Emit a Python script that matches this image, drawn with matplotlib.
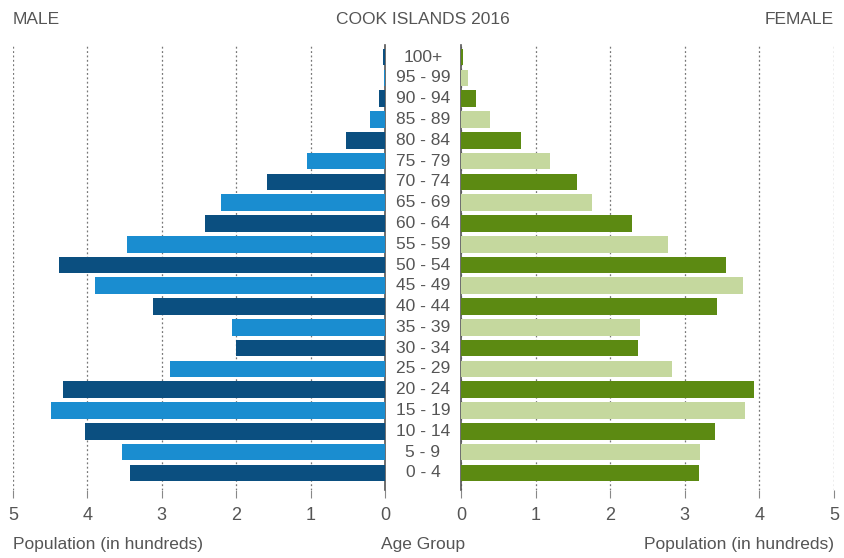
import numpy as np
import matplotlib
matplotlib.use('Agg')
import matplotlib.pyplot as plt
from matplotlib.transforms import blended_transform_factory

ages = ['0 - 4', '5 - 9', '10 - 14', '15 - 19', '20 - 24', '25 - 29', '30 - 34',
        '35 - 39', '40 - 44', '45 - 49', '50 - 54', '55 - 59', '60 - 64', '65 - 69',
        '70 - 74', '75 - 79', '80 - 84', '85 - 89', '90 - 94', '95 - 99', '100+']
male = [3.43, 3.53, 4.03, 4.49, 4.33, 2.89, 2.00, 2.06, 3.12, 3.90, 4.38,
        3.47, 2.42, 2.20, 1.59, 1.05, 0.52, 0.20, 0.08, 0.01, 0.03]
female = [3.19, 3.20, 3.41, 3.81, 3.93, 2.83, 2.37, 2.40, 3.43, 3.78, 3.55,
          2.78, 2.29, 1.75, 1.55, 1.19, 0.80, 0.39, 0.20, 0.09, 0.03]
ticks = [0, 1, 2, 3, 4, 5]

font = ['Liberation Sans', 'DejaVu Sans']
txt = '#555555'

fig = plt.figure(figsize=(8.45, 5.58), dpi=100)
axl = fig.add_axes([13 / 845, 1 - 490 / 558, 372 / 845, 445 / 558])
axr = fig.add_axes([461 / 845, 1 - 490 / 558, 373 / 845, 445 / 558])

y = np.arange(len(ages))
male_cols = ['#0b4f80' if i % 2 == 0 else '#1a8dd0' for i in y]
female_cols = ['#5c8a12' if i % 2 == 0 else '#c5d89e' for i in y]

axl.barh(y, male, height=0.8, color=male_cols, zorder=3)
axr.barh(y, female, height=0.8, color=female_cols, zorder=3)

axl.set_xlim(5, 0)
axr.set_xlim(0, 5)

for ax, side in [(axl, 'right'), (axr, 'left')]:
    ax.set_ylim(-0.82, 20.58)
    ax.set_yticks([])
    ax.set_xticks(ticks)
    ax.set_xticklabels([str(t) for t in ticks], family=font, fontsize=13, color=txt)
    ax.tick_params(axis='x', length=6, color='#888888', pad=6)
    for s in ['top', 'bottom', 'left', 'right']:
        ax.spines[s].set_visible(s == side)
    ax.spines[side].set_color('#555555')
    ax.spines[side].set_linewidth(1.2)
    ax.grid(axis='x', linestyle=(0, (1.5, 2)), color='#777777', linewidth=0.9, zorder=0)
    ax.set_facecolor('none')

# age group labels in the gap between the two halves
tr = blended_transform_factory(fig.transFigure, axl.transData)
for i, a in enumerate(ages):
    fig.text(423 / 845, i, a, transform=tr, ha='center', va='center',
             fontsize=12.5, color=txt, family=font)

fig.text(13 / 845, 1 - 20 / 558, 'MALE', ha='left', va='center', fontsize=12.5, color=txt, family=font)
fig.text(423 / 845, 1 - 20 / 558, 'COOK ISLANDS 2016', ha='center', va='center', fontsize=12.5, color=txt, family=font)
fig.text(834 / 845, 1 - 20 / 558, 'FEMALE', ha='right', va='center', fontsize=12.5, color=txt, family=font)
fig.text(13 / 845, 1 - 545 / 558, 'Population (in hundreds)', ha='left', va='center', fontsize=12.5, color=txt, family=font)
fig.text(423 / 845, 1 - 545 / 558, 'Age Group', ha='center', va='center', fontsize=12.5, color=txt, family=font)
fig.text(834 / 845, 1 - 545 / 558, 'Population (in hundreds)', ha='right', va='center', fontsize=12.5, color=txt, family=font)

fig.savefig('out.png', dpi=100)
